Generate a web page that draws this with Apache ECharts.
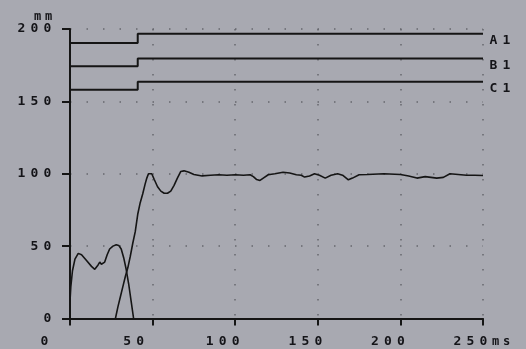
<!DOCTYPE html>
<html>
<head>
<meta charset="utf-8">
<script src="https://cdn.jsdelivr.net/npm/echarts@6/dist/echarts.min.js"></script>
<style>
html,body{margin:0;padding:0;background:#a8a9b1;}
#c{width:526px;height:349px;}
</style>
</head>
<body>
<div id="c"></div>
<script>
// ---- data (time in ms, value in mm) ----
const xTicks = [0, 50, 100, 150, 200, 250];
const yTicks = [0, 50, 100, 150, 200];
const xUnit = 'ms';
const yUnit = 'mm';

const digitalNames = ['A1', 'B1', 'C1'];
const A1 = [[0, 190.4], [41, 196.7], [250, 196.7]];
const B1 = [[0, 174.3], [41, 179.6], [250, 179.6]];
const C1 = [[0, 158.1], [41, 163.5], [250, 163.5]];

const sensor1 = [
  [0, 12], [0.5, 22], [1.5, 33], [3, 41], [5, 45], [7, 44], [10, 40], [13, 36],
  [15, 34], [17, 37], [18, 39], [19, 37.5], [20, 38], [21, 39], [22.5, 44], [24, 48],
  [26, 50], [28, 51], [29.5, 50.5], [31, 48], [32.5, 42], [34, 34], [35.5, 24],
  [37, 12], [38.5, 0]
];

const sensor2 = [
  [27.5, 0], [29, 8], [30.5, 15], [32, 22], [33.5, 29], [35, 35], [36.5, 43], [38, 52],
  [39.5, 60], [41, 72], [42.5, 80], [44, 86], [45.5, 93], [46.5, 97], [47.5, 100],
  [48.5, 101], [49.5, 100], [51, 96], [53, 91], [55, 88], [57, 86.5], [59, 86.5],
  [61, 88], [63, 92], [65, 97], [67, 101.5], [69, 102], [72, 101], [75, 99.5],
  [80, 98.5], [85, 99], [90, 99.3], [95, 99], [100, 99.3], [105, 99], [109, 99.3],
  [111, 98], [113, 96], [115, 95.4], [117, 97], [120, 99.3], [124, 100], [129, 101],
  [133, 100.5], [137, 99.3], [140, 99], [142, 97.7], [145, 98.5], [148, 100],
  [151, 99], [154.5, 97], [158, 99], [162, 100], [165, 99], [168.5, 95.8], [171, 97],
  [175, 99.3], [180, 99.5], [190, 100], [200, 99.5], [205, 98.5], [210, 97],
  [215, 98], [222, 97], [226, 97.5], [230, 100], [235, 99.5], [240, 99], [245, 99],
  [250, 98.8]
];

// ---- styling ----
const FONT = 'DejaVu Sans Mono';
const TXT = '#141418';
const LINE = '#151515';
const DOT = '#66676e';

function spaced(str, style) {
  return String(str).split('').map(ch => '{' + style + '|' + ch + '}').join('');
}
const charStyle = { width: 13, align: 'center', fontFamily: FONT, fontSize: 13, fontWeight: 'bold', color: TXT };
const unitStyle = { width: 11, align: 'center', fontFamily: FONT, fontSize: 12, fontWeight: 'bold', color: TXT };

const chart = echarts.init(document.getElementById('c'), null, { renderer: 'canvas' });

const digitalSets = [A1, B1, C1];
const series = [];
digitalSets.forEach((d, i) => {
  series.push({
    name: digitalNames[i], type: 'line', step: 'end', data: d,
    xAxisIndex: 0, yAxisIndex: 0, showSymbol: false, animation: false,
    lineStyle: { color: LINE, width: 2 },
    endLabel: {
      show: true, formatter: p => spaced(p.seriesName, 'c'),
      offset: [-4, 7], rich: { c: charStyle }
    }
  });
});
series.push({
  name: 'sensor1', type: 'line', data: sensor1, showSymbol: false, animation: false,
  xAxisIndex: 0, yAxisIndex: 0, lineStyle: { color: LINE, width: 1.6 }
});
series.push({
  name: 'sensor2', type: 'line', data: sensor2, showSymbol: false, animation: false,
  xAxisIndex: 0, yAxisIndex: 0, lineStyle: { color: LINE, width: 1.6 }
});

const option = {
  backgroundColor: '#a8a9b1',
  animation: false,
  grid: [
    { left: 70, right: 43, top: 29, bottom: 30.5 },
    { left: 38, right: 75, top: 29, bottom: 30.5 }
  ],
  xAxis: [
    {
      type: 'value', gridIndex: 0, min: xTicks[0], max: xTicks[xTicks.length - 1], interval: 50,
      axisLine: { show: true, onZero: false, lineStyle: { color: LINE, width: 2 } },
      axisTick: { show: true, length: 7, lineStyle: { color: LINE, width: 2 } },
      axisLabel: { show: false },
      splitLine: { show: true, lineStyle: { color: DOT, width: 1.5, type: [1.5, 13.5] } }
    },
    {
      type: 'value', gridIndex: 1, min: xTicks[0], max: xTicks[xTicks.length - 1], interval: 50,
      axisLine: { show: false }, axisTick: { show: false }, splitLine: { show: false },
      axisLabel: {
        show: true, align: 'left', margin: 17,
        formatter: v => spaced(v, 'c') + (v === xTicks[xTicks.length - 1] ? spaced(xUnit, 'u') : ''),
        rich: { c: charStyle, u: unitStyle }
      }
    }
  ],
  yAxis: [
    {
      type: 'value', gridIndex: 0, min: yTicks[0], max: yTicks[yTicks.length - 1], interval: 50,
      name: spaced(yUnit, 'u'), nameLocation: 'end', nameGap: 12,
      nameTextStyle: { align: 'right', verticalAlign: 'middle', padding: [0, 16, 0, 0], rich: { u: unitStyle } },
      axisLine: { show: true, onZero: false, lineStyle: { color: LINE, width: 2 } },
      axisTick: { show: true, length: 8, lineStyle: { color: LINE, width: 2 } },
      axisLabel: {
        show: true, margin: 16,
        formatter: v => spaced(v, 'c'),
        rich: { c: charStyle }
      },
      splitLine: { show: true, lineStyle: { color: DOT, width: 1.5, type: [1.5, 15] } }
    },
    { type: 'value', gridIndex: 1, min: 0, max: 1, show: false }
  ],
  series: series
};
chart.setOption(option);
</script>
</body>
</html>
